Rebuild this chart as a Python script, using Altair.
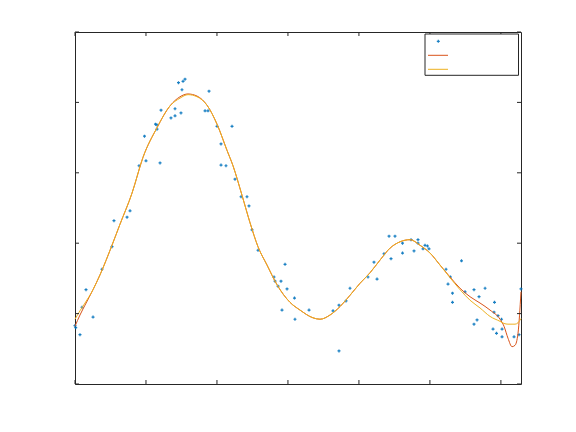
import altair as alt
import pandas as pd

# ---- data ----
data_x = [0.0, 0.01, 0.07, 0.099, 0.155, 0.254, 0.38, 0.521, 0.549, 0.733, 0.775, 0.902, 0.979, 1.0,
          1.134, 1.155, 1.155, 1.198, 1.212, 1.352, 1.409, 1.409, 1.458, 1.493, 1.507, 1.522, 1.55,
          1.832, 1.874, 1.888, 2.001, 2.057, 2.057, 2.127, 2.212, 2.254, 2.339, 2.423, 2.451, 2.494,
          2.578, 2.804, 2.818, 2.86, 2.902, 2.916, 2.959, 2.987, 3.092, 3.099, 3.297, 3.635, 3.719,
          3.719, 3.818, 3.874, 4.128, 4.212, 4.255, 4.353, 4.424, 4.452, 4.508, 4.614, 4.614, 4.734,
          4.776, 4.832, 4.832, 4.903, 4.931, 4.966, 4.987, 5.227, 5.255, 5.29, 5.318, 5.318, 5.445,
          5.495, 5.621, 5.621, 5.664, 5.692, 5.777, 5.889, 5.903, 5.91, 5.938, 5.959, 6.009, 6.016,
          6.016, 6.185, 6.255, 6.283]
data_y = [-0.17, -0.2, -0.3, 0.09, 0.34, -0.05, 0.63, 0.95, 1.32, 1.37, 1.46, 2.1, 2.52, 2.17,
          2.69, 2.68, 2.62, 2.14, 2.89, 2.78, 2.81, 2.91, 3.28, 2.85, 3.18, 3.3, 3.33,
          2.88, 2.88, 3.16, 2.66, 2.41, 2.11, 2.1, 2.66, 1.91, 1.66, 1.66, 1.53, 1.19,
          0.9, 0.52, 0.46, 0.39, 0.46, 0.05, 0.7, 0.35, 0.22, -0.08, 0.05, 0.04, -0.53,
          0.12, 0.18, 0.36, 0.52, 0.73, 0.49, 0.85, 1.1, 0.78, 1.1, 0.86, 1.0, 1.05,
          0.89, 1.05, 1.0, 0.92, 0.97, 0.96, 0.92, 0.63, 0.42, 0.52, 0.29, 0.16, 0.75,
          0.31, 0.34, -0.15, -0.09, 0.24, 0.36, -0.22, 0.02, 0.16, -0.28, -0.03, -0.08, -0.22,
          -0.33, -0.33, -0.3, 0.35]

fit_x = [0.0, 0.07, 0.141, 0.254, 0.352, 0.521, 0.634, 0.803, 0.958, 1.155, 1.338, 1.479, 1.592,
         1.719, 1.86, 2.001, 2.141, 2.226, 2.353, 2.466, 2.578, 2.705, 2.846, 3.029, 3.17, 3.353,
         3.452, 3.593, 3.734, 3.874, 4.015, 4.156, 4.297, 4.438, 4.579, 4.72, 4.861, 5.002, 5.142,
         5.283, 5.424, 5.565, 5.706, 5.847, 5.988, 6.044, 6.1, 6.157, 6.199, 6.241, 6.283]
fit1_y = [-0.18, -0.02, 0.12, 0.34, 0.55, 0.97, 1.27, 1.71, 2.22, 2.64, 2.95, 3.08, 3.12,
          3.09, 2.96, 2.69, 2.32, 2.1, 1.68, 1.29, 0.95, 0.69, 0.41, 0.16, 0.05, -0.06,
          -0.08, -0.02, 0.1, 0.26, 0.43, 0.58, 0.76, 0.93, 1.02, 1.05, 0.97, 0.86, 0.69,
          0.52, 0.36, 0.24, 0.15, 0.05, -0.08, -0.18, -0.35, -0.47, -0.45, -0.28, 0.31]
fit2_y = [-0.08, 0.04, 0.15, 0.34, 0.55, 0.97, 1.27, 1.71, 2.22, 2.64, 2.95, 3.06, 3.11,
          3.08, 2.96, 2.69, 2.32, 2.1, 1.68, 1.29, 0.95, 0.69, 0.41, 0.16, 0.05, -0.06,
          -0.08, -0.02, 0.1, 0.26, 0.43, 0.58, 0.76, 0.93, 1.02, 1.05, 0.97, 0.86, 0.69,
          0.51, 0.34, 0.19, 0.08, -0.04, -0.11, -0.14, -0.15, -0.15, -0.15, -0.13, -0.07]

x_ticks = [0, 1, 2, 3, 4, 5, 6]
y_ticks = [-1, 0, 1, 2, 3, 4]

W, H = 446, 352
TL = 4
AX = "#262626"
BLUE, ORANGE, YELLOW = "#0072BD", "#D95319", "#EDB120"

xs = alt.Scale(domain=[0, 6.2832], nice=False, zero=False)
ys = alt.Scale(domain=[-1, 4], nice=False, zero=False)

pts = pd.DataFrame({"x": data_x, "y": data_y})
fits = pd.DataFrame({"x": fit_x, "f1": fit1_y, "f2": fit2_y})
xt = pd.DataFrame({"t": x_ticks})
yt = pd.DataFrame({"t": y_ticks})
one = pd.DataFrame({"a": [0]})

X = lambda f: alt.X(f, type="quantitative", scale=xs, axis=None)
Y = lambda f: alt.Y(f, type="quantitative", scale=ys, axis=None)

points = alt.Chart(pts).mark_point(shape="cross", filled=True, size=9, color=BLUE, opacity=0.9).encode(
    x=X("x"), y=Y("y"))
line1 = alt.Chart(fits).mark_line(color=ORANGE, strokeWidth=1, interpolate="monotone").encode(
    x=X("x"), y=Y("f1"))
line2 = alt.Chart(fits).mark_line(color=YELLOW, strokeWidth=1, interpolate="monotone").encode(
    x=X("x"), y=Y("f2"))

tb = alt.Chart(xt).mark_rule(color=AX, strokeWidth=1).encode(x=X("t"), y=alt.value(H), y2=alt.value(H - TL))
tt = alt.Chart(xt).mark_rule(color=AX, strokeWidth=1).encode(x=X("t"), y=alt.value(0), y2=alt.value(TL))
tl = alt.Chart(yt).mark_rule(color=AX, strokeWidth=1).encode(y=Y("t"), x=alt.value(0), x2=alt.value(TL))
tr = alt.Chart(yt).mark_rule(color=AX, strokeWidth=1).encode(y=Y("t"), x=alt.value(W), x2=alt.value(W - TL))

# legend (entries without visible labels, as in the reference)
leg_box = alt.Chart(one).mark_rect(fill="white", stroke=AX, strokeWidth=1).encode(
    x=alt.value(350), x2=alt.value(443.5), y=alt.value(2), y2=alt.value(43.3))
leg_pt = alt.Chart(one).mark_point(shape="cross", filled=True, size=9, color=BLUE, opacity=0.9).encode(
    x=alt.value(363.3), y=alt.value(9.3))
leg_l1 = alt.Chart(one).mark_rule(color=ORANGE, strokeWidth=1).encode(
    x=alt.value(353), x2=alt.value(373), y=alt.value(23.3))
leg_l2 = alt.Chart(one).mark_rule(color=YELLOW, strokeWidth=1).encode(
    x=alt.value(353), x2=alt.value(373), y=alt.value(37.3))

chart = alt.layer(points, line1, line2, tb, tt, tl, tr, leg_box, leg_pt, leg_l1, leg_l2).properties(
    width=W, height=H,
    autosize=alt.AutoSizeParams(type="none"),
    padding={"left": 67, "top": 24, "right": 47, "bottom": 40},
    background="white",
).configure_view(stroke=AX, strokeWidth=1)

chart.save("out.html", embed_options={"renderer": "svg", "actions": False})
